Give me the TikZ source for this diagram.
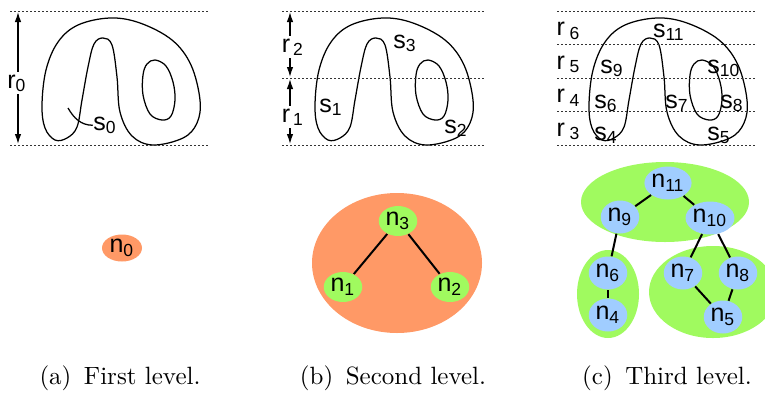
\documentclass[tikz,border=0pt]{standalone}
\usepackage{fontspec}
\newfontfamily\labelfont{Liberation Sans}
\usetikzlibrary{positioning, arrows.meta, shapes.geometric}

\definecolor{lvlorange}{RGB}{255,153,102}
\definecolor{lvlgreen}{RGB}{160,250,95}
\definecolor{lvlblue}{RGB}{160,205,255}

\begin{document}
\begin{tikzpicture}[
    x=0.4pt, y=-0.4pt,
    font=\labelfont,
    level/.style={
        draw=black!80,
        dash pattern=on 0.8pt off 0.8pt,
        line width=0.4pt
    },
    span/.style={
        draw,
        {Latex[length=4pt,width=2.6pt]}-{Latex[length=4pt,width=2.6pt]},
        line width=0.5pt
    },
    lbl/.style={anchor=base, inner sep=0pt},
    region/.style={ellipse, inner sep=0pt},
    tnode/.style={
        ellipse,
        inner sep=0pt,
        minimum width=15.4pt,
        minimum height=13.2pt,
        fill=lvlblue
    },
    link/.style={draw, line width=0.8pt},
    caption/.style={anchor=base, font=\rmfamily},
    blob/.pic={
        \draw[line width=0.5pt] plot[smooth cycle, tension=0.6] coordinates {
            (55,140) (45,128) (42,105) (46,70) (58,42) (78,25) (110,18)
            (140,23) (172,40) (191,65) (200,100) (197,123) (183,138)
            (153,145) (132,136) (120,112) (117,77) (112,45) (103,38)
            (94,44) (88,67) (82,100) (77,127) (67,138)};
        \draw[line width=0.5pt] plot[smooth cycle, tension=0.6] coordinates {
            (155,60) (166,66) (173,82) (175,100) (171,116) (162,120)
            (150,114) (143,95) (143,75) (147,64)};
    }
]
\useasboundingbox (0,0) rectangle (765,394);

% --- First level (a) ---
\pic at (0,0) {blob};
\foreach \y in {11,145} {
    \draw[level] (10,\y) -- (210,\y);
}
\coordinate (r0top) at (18,12);
\coordinate (r0bot) at (18,144);
\draw[span] (r0top) -- (r0bot);
\node[lbl, fill=white, inner sep=1pt] (r0) at (17,88) {r\textsubscript{0}};
\coordinate (s0tip) at (68,108);
\node[lbl] (s0) at (105,130) {s\textsubscript{0}};
\draw[line width=0.5pt] (s0tip) to[out=-60, in=180] (s0.west);

\node[region, fill=lvlorange, minimum width=16pt, minimum height=10.8pt] (n0) at (122,248) {n\textsubscript{0}};

% --- Second level (b) ---
\pic at (273,0) {blob};
\foreach \y in {11,78,145} {
    \draw[level] (282,\y) -- (485,\y);
}
\coordinate (r2top) at (290,12);
\coordinate (r2bot) at (290,77);
\coordinate (r1top) at (290,79);
\coordinate (r1bot) at (290,144);
\draw[span] (r2top) -- (r2bot);
\draw[span] (r1top) -- (r1bot);
\node[lbl, fill=white, inner sep=1pt] (r2) at (293,52) {r\textsubscript{\,2}};
\node[lbl, fill=white, inner sep=1pt] (r1) at (293,122) {r\textsubscript{\,1}};
\node[lbl] (s3) at (405,48) {s\textsubscript{3}};
\node[lbl] (s1) at (331,112) {s\textsubscript{1}};
\node[lbl] (s2) at (456,133) {s\textsubscript{2}};

\node[region, fill=lvlorange, minimum width=68pt, minimum height=56pt] (c2) at (397,263) {};
\node[tnode, fill=lvlgreen, minimum height=12pt] (n3) at (398,221) {n\textsubscript{3}};
\node[tnode, fill=lvlgreen, minimum height=12pt] (n1) at (343,287) {n\textsubscript{1}};
\node[tnode, fill=lvlgreen, minimum height=12pt] (n2) at (450,287) {n\textsubscript{2}};
\draw[link] (n3) -- (n1);
\draw[link] (n3) -- (n2);

% --- Third level (c) ---
\pic at (547,0) {blob};
\foreach \y in {11,44.5,78,111.5,145} {
    \draw[level] (557,\y) -- (755,\y);
}
\node[lbl, anchor=base west] (r6) at (556,35.5) {r\textsubscript{\;6}};
\node[lbl, anchor=base west] (r5) at (556,69) {r\textsubscript{\;5}};
\node[lbl, anchor=base west] (r4) at (556,102.5) {r\textsubscript{\;4}};
\node[lbl, anchor=base west] (r3) at (556,136) {r\textsubscript{\;3}};
\node[lbl] (s11) at (669,37) {s\textsubscript{11}};
\node[lbl] (s9) at (612,73) {s\textsubscript{9}};
\node[lbl] (s10) at (724,73) {s\textsubscript{10}};
\node[lbl] (s6) at (606,108) {s\textsubscript{6}};
\node[lbl] (s7) at (677,108) {s\textsubscript{7}};
\node[lbl] (s8) at (732,108) {s\textsubscript{8}};
\node[lbl] (s4) at (606,140) {s\textsubscript{4}};
\node[lbl] (s5) at (719,140) {s\textsubscript{5}};

\node[region, fill=lvlgreen, minimum width=67.2pt, minimum height=32pt] (c11) at (665,202) {};
\node[region, fill=lvlgreen, minimum width=24.8pt, minimum height=35.2pt] (c6) at (608,294) {};
\node[region, fill=lvlgreen, minimum width=51.2pt, minimum height=36.8pt] (c7) at (713,292) {};

\node[tnode] (n11) at (668,183) {n\textsubscript{11}};
\node[tnode] (n9) at (620,217) {n\textsubscript{9}};
\node[tnode] (n10) at (710,218) {n\textsubscript{10}};
\node[tnode] (n6) at (608,273) {n\textsubscript{6}};
\node[tnode] (n4) at (608,315) {n\textsubscript{4}};
\node[tnode] (n7) at (683,273) {n\textsubscript{7}};
\node[tnode] (n8) at (738,273) {n\textsubscript{8}};
\node[tnode] (n5) at (723,317) {n\textsubscript{5}};

\draw[link] (n11) -- (n9);
\draw[link] (n11) -- (n10);
\draw[link] (n9) -- (n6);
\draw[link] (n6) -- (n4);
\draw[link] (n10) -- (n7);
\draw[link] (n10) -- (n8);
\draw[link] (n7) -- (n5);
\draw[link] (n8) -- (n5);

% --- Captions ---
\node[caption] (capa) at (120,384) {(a)\enspace First level.};
\node[caption] (capb) at (393,384) {(b)\enspace Second level.};
\node[caption] (capc) at (667,384) {(c)\enspace Third level.};

\end{tikzpicture}
\end{document}
